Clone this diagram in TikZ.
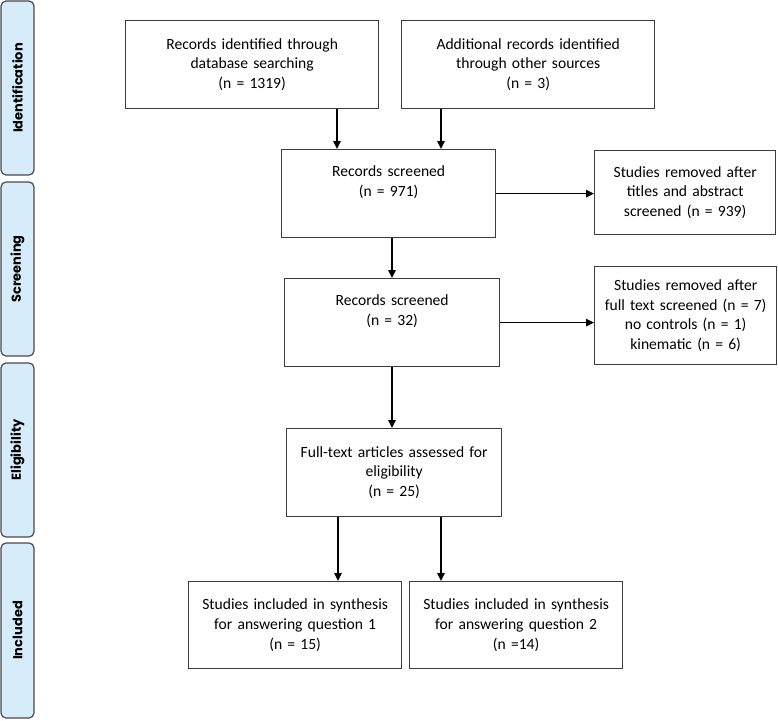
\documentclass[tikz,border=0pt]{standalone}
\usepackage{fontspec}
\setmainfont{Carlito}
\newfontfamily\sidefont{Poppins}
\usetikzlibrary{arrows.meta}
\definecolor{sidefill}{HTML}{D6ECFB}
\definecolor{sidedraw}{HTML}{4A4A4A}
\definecolor{boxdraw}{HTML}{3C3C3C}
\begin{document}
\begin{tikzpicture}[x=1pt,y=-1pt,
  box/.style={draw=boxdraw,line width=1.3pt,inner sep=0pt,anchor=north west,align=center,
     font=\fontsize{15.6}{19.6}\selectfont},
  side/.style={draw=sidedraw,fill=sidefill,line width=1.2pt,rounded corners=5pt,rotate=90,
     minimum width=#1,minimum height=33pt,inner sep=0pt,font=\sidefont\bfseries\fontsize{13}{15}\selectfont},
  arr/.style={-{Triangle[length=8pt,width=7.5pt]},line width=1.3pt,black}]
\useasboundingbox (0,0) rectangle (778,720);
% side bars
\node[side=174pt] (sid) at (17.5,88) {Identification};
\node[side=174pt] (sscr) at (17.5,269) {Screening};
\node[side=174pt] (seli) at (17.5,450) {Eligibility};
\node[side=175pt] (sinc) at (17.5,630.5) {Included};
% boxes
\node[box,minimum width=253pt,minimum height=88pt,text width=253pt] (b1) at (125,20)
  {Records identified through\\database searching\\(n = 1319)};
\node[box,minimum width=253pt,minimum height=88pt,text width=253pt] (b2) at (401,20)
  {Additional records identified\\through other sources\\(n = 3)};
\node[box,minimum width=214pt,minimum height=88pt,text width=214pt] (rs1) at (281,149)
  {Records screened\\(n = 971)\\\strut};
\node[box,minimum width=181pt,minimum height=84pt,text width=181pt] (sr1) at (594,150)
  {Studies removed after\\titles and abstract\\screened (n = 939)};
\node[box,minimum width=215pt,minimum height=88pt,text width=215pt] (rs2) at (284,278)
  {Records screened\\(n = 32)\\\strut};
\node[box,minimum width=182pt,minimum height=98pt,text width=182pt] (sr2) at (594,266)
  {Studies removed after\\full text screened (n = 7)\\no controls (n = 1)\\kinematic (n = 6)};
\node[box,minimum width=215pt,minimum height=88pt,text width=215pt] (ft) at (286,428)
  {Full-text articles assessed for\\eligibility\\(n = 25)};
\node[box,minimum width=213pt,minimum height=87pt,text width=213pt] (q1) at (188,581)
  {Studies included in synthesis\\for answering question 1\\(n = 15)};
\node[box,minimum width=213pt,minimum height=87pt,text width=213pt] (q2) at (409,581)
  {Studies included in synthesis\\for answering question 2\\(n =14)};
% arrow x positions
\coordinate (xa) at (337,0);
\coordinate (xb) at (441,0);
\coordinate (xc) at (392,0);
\coordinate (xd) at (338,0);
% arrows
\draw[arr] (xa |- b1.south) -- (xa |- rs1.north);
\draw[arr] (xb |- b2.south) -- (xb |- rs1.north);
\draw[arr] (rs1.east) -- (rs1.east -| sr1.west);
\draw[arr] (xc |- rs1.south) -- (xc |- rs2.north);
\draw[arr] (rs2.east) -- (rs2.east -| sr2.west);
\draw[arr] (xc |- rs2.south) -- (xc |- ft.north);
\draw[arr] (xd |- ft.south) -- (xd |- q1.north);
\draw[arr] (xb |- ft.south) -- (xb |- q2.north);
\end{tikzpicture}
\end{document}
